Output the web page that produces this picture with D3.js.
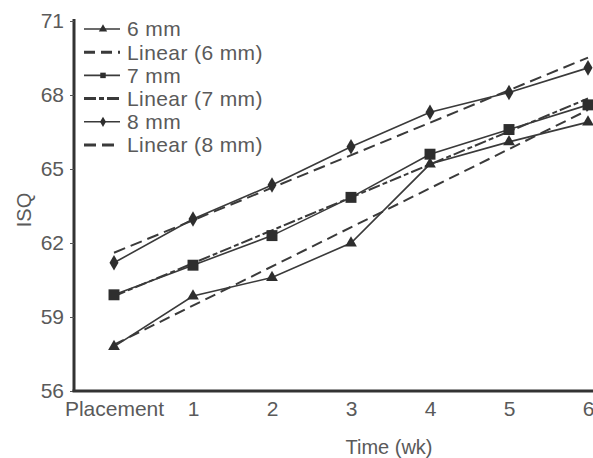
<!DOCTYPE html>
<html>
<head>
<meta charset="utf-8">
<script src="https://cdn.jsdelivr.net/npm/d3@7"></script>
<style>
  body { margin: 0; background: #fff; }
  text { font-family: "Liberation Sans", Arial, sans-serif; fill: #5a5a5a; }
</style>
</head>
<body>
<div class="chart"></div>
<script>
// categories along the x axis
var weeks = ["Placement", "1", "2", "3", "4", "5", "6"];
// ISQ values
var isq6 = [57.8, 59.85, 60.6, 62.0, 65.2, 66.1, 66.9];
var isq7 = [59.9, 61.1, 62.3, 63.85, 65.6, 66.6, 67.6];
var isq8 = [61.2, 62.97, 64.35, 65.9, 67.3, 68.1, 69.1];
var yTicks = [56, 59, 62, 65, 68, 71];

var width = 593, height = 458;
var margin = {top: 21, right: 5, bottom: 67, left: 74};

var svg = d3.select(".chart").append("svg")
  .attr("width", width)
  .attr("height", height);

var x = d3.scalePoint()
  .domain(weeks)
  .range([114, 588]);

var y = d3.scaleLinear()
  .domain([56, 71])
  .range([height - margin.bottom, margin.top]);

// least squares trend line for one series
function trend(vals) {
  var n = vals.length;
  var mx = (n - 1) / 2;
  var my = d3.mean(vals);
  var sxy = 0, sxx = 0;
  vals.forEach(function(v, i) {
    sxy += (i - mx) * (v - my);
    sxx += (i - mx) * (i - mx);
  });
  var slope = sxy / sxx;
  return [my - slope * mx, my + slope * (n - 1 - mx)];
}

var series = [
  {label: "6 mm", vals: isq6, marker: "triangle", dash: "11,6"},
  {label: "7 mm", vals: isq7, marker: "square", dash: "12,3,5,3"},
  {label: "8 mm", vals: isq8, marker: "diamond", dash: "12,6"}
];

var symbols = {
  triangle: d3.symbol().type(d3.symbolTriangle).size(60),
  square: d3.symbol().type(d3.symbolSquare).size(120),
  diamond: d3.symbol().type(d3.symbolDiamond).size(70)
};

var line = d3.line()
  .x(function(d, i) { return x(weeks[i]); })
  .y(function(d) { return y(d); });

var lineColor = "#3a3a3a";

// trend lines first
series.forEach(function(s) {
  var t = trend(s.vals);
  svg.append("line")
    .attr("x1", x(weeks[0]))
    .attr("y1", y(t[0]))
    .attr("x2", x(weeks[weeks.length - 1]))
    .attr("y2", y(t[1]))
    .attr("stroke", lineColor)
    .attr("stroke-width", 2)
    .attr("stroke-dasharray", s.dash);
});

// data lines and markers
series.forEach(function(s) {
  svg.append("path")
    .datum(s.vals)
    .attr("fill", "none")
    .attr("stroke", lineColor)
    .attr("stroke-width", 1.6)
    .attr("d", line);

  svg.selectAll(null)
    .data(s.vals)
    .enter()
    .append("path")
    .attr("d", symbols[s.marker])
    .attr("fill", "#2e2e2e")
    .attr("transform", function(d, i) {
      return "translate(" + x(weeks[i]) + "," + y(d) + ")";
    });
});

// y axis
var yAxis = svg.append("g")
  .attr("transform", "translate(" + margin.left + ",0)")
  .call(d3.axisLeft(y).tickValues(yTicks).tickSize(4).tickPadding(6));
yAxis.select(".domain").attr("stroke", "#333").attr("stroke-width", 3)
  .attr("d", "M0," + (margin.top - 2) + "V" + (height - margin.bottom));
yAxis.selectAll(".tick line").attr("stroke", "#555");
yAxis.selectAll(".tick text")
  .style("font-size", "21px")
  .attr("fill", "#5a5a5a");

// x axis
var xAxis = svg.append("g")
  .attr("transform", "translate(0," + (height - margin.bottom) + ")")
  .call(d3.axisBottom(x).tickSize(0).tickPadding(10));
xAxis.select(".domain").attr("stroke", "#333").attr("stroke-width", 3)
  .attr("d", "M" + (margin.left - 1.5) + ",0H" + width);
xAxis.selectAll(".tick text")
  .style("font-size", "21px")
  .attr("fill", "#5a5a5a");

// axis titles
svg.append("text")
  .attr("x", 389)
  .attr("y", 454)
  .attr("text-anchor", "middle")
  .style("font-size", "20px")
  .text("Time (wk)");

svg.append("text")
  .attr("transform", "translate(31,210) rotate(-90)")
  .attr("text-anchor", "middle")
  .style("font-size", "20px")
  .text("ISQ");

// legend
var legendItems = [];
series.forEach(function(s) {
  legendItems.push({label: s.label, marker: s.marker, dash: null});
  legendItems.push({label: "Linear (" + s.label + ")", marker: null, dash: s.dash});
});

var legend = svg.selectAll(".legend")
  .data(legendItems)
  .enter()
  .append("g")
  .attr("class", "legend")
  .attr("transform", function(d, i) {
    return "translate(84," + (29 + i * 23.2) + ")";
  });

legend.append("line")
  .attr("x1", 0)
  .attr("x2", 36)
  .attr("stroke", lineColor)
  .attr("stroke-width", function(d) { return d.dash ? 3 : 1.6; })
  .attr("stroke-dasharray", function(d) { return d.dash; });

legend.filter(function(d) { return d.marker; })
  .append("path")
  .attr("d", function(d) {
    return d3.symbol().type(d.marker === "triangle" ? d3.symbolTriangle :
      d.marker === "square" ? d3.symbolSquare : d3.symbolDiamond).size(30)();
  })
  .attr("fill", "#2e2e2e")
  .attr("transform", "translate(19,0)");

legend.append("text")
  .attr("x", 43)
  .attr("dy", "0.35em")
  .style("font-size", "21px")
  .style("letter-spacing", "0.4px")
  .text(function(d) { return d.label; });
</script>
</body>
</html>
